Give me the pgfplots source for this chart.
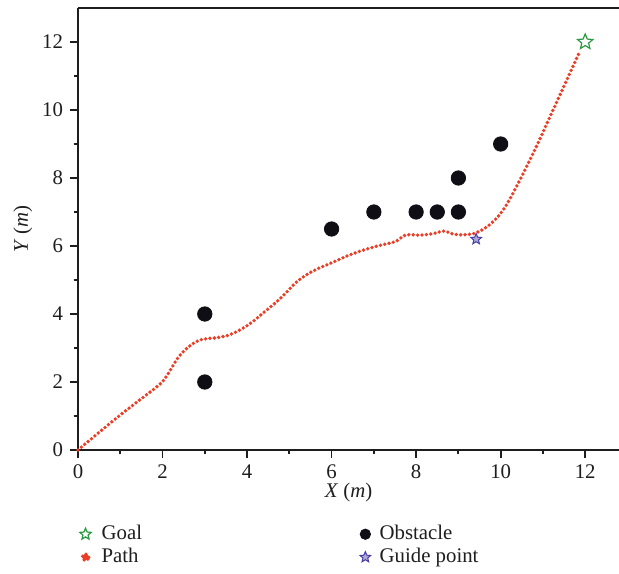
\documentclass[border=0pt]{standalone}
\usepackage{fontspec}
\setmainfont{Liberation Serif}
\usepackage{pgfplots}
\pgfplotsset{compat=1.18}
\definecolor{pathred}{RGB}{232,64,40}
\definecolor{goalgreen}{RGB}{40,155,65}
\definecolor{guideblue}{RGB}{70,60,165}
\definecolor{obsblack}{RGB}{14,14,20}
\definecolor{axisgray}{RGB}{30,30,30}
\pgfdeclareplotmark{fivestar}{%
  \pgfpathmoveto{\pgfpointpolar{90}{\pgfplotmarksize}}%
  \pgfpathlineto{\pgfpointpolar{126}{0.45\pgfplotmarksize}}%
  \pgfpathlineto{\pgfpointpolar{162}{\pgfplotmarksize}}%
  \pgfpathlineto{\pgfpointpolar{198}{0.45\pgfplotmarksize}}%
  \pgfpathlineto{\pgfpointpolar{234}{\pgfplotmarksize}}%
  \pgfpathlineto{\pgfpointpolar{270}{0.45\pgfplotmarksize}}%
  \pgfpathlineto{\pgfpointpolar{306}{\pgfplotmarksize}}%
  \pgfpathlineto{\pgfpointpolar{342}{0.45\pgfplotmarksize}}%
  \pgfpathlineto{\pgfpointpolar{18}{\pgfplotmarksize}}%
  \pgfpathlineto{\pgfpointpolar{54}{0.45\pgfplotmarksize}}%
  \pgfpathclose
  \pgfusepathqfillstroke
}
\pgfplotsset{
  goalleg/.style={legend image code/.code={\draw[goalgreen, fill=white, line width=0.6pt] plot[mark=fivestar, mark size=3pt] coordinates {(0pt,0pt)};}},
  obsleg/.style={legend image code/.code={\draw[obsblack, fill=obsblack] plot[mark=*, mark size=2.6pt] coordinates {(0pt,0pt)};}},
  pathleg/.style={legend image code/.code={\fill[pathred] (0pt,0pt) circle (1.6pt); \path (-2.6pt,0pt) (2.6pt,0pt);}},
  guideleg/.style={legend image code/.code={\draw[guideblue, fill=guideblue, line width=0.5pt] plot[mark=fivestar, mark size=2.8pt] coordinates {(0pt,0pt)};}},
}
\begin{document}
\begin{tikzpicture}
\begin{axis}[
  scale only axis,
  width=270.5pt, height=221pt,
  xmin=0, xmax=12.8, ymin=0, ymax=13,
  axis x line*=box, axis y line*=left,
  xtick pos=bottom, ytick pos=left,
  tick align=outside,
  xtick={0,2,...,12}, ytick={0,2,...,12},
  minor xtick={1,3,...,11}, minor ytick={1,3,...,11},
  major tick length=4pt, minor tick length=2pt,
  axis line style={axisgray, line width=0.9pt},
  every tick/.style={axisgray, line width=0.9pt},
  /pgf/number format/assume math mode=true,
  tick label style={font=\fontsize{10.4}{12}\selectfont, text=axisgray},
  xlabel={\textit{X} (\textit{m})},
  ylabel={\textit{Y} (\textit{m})},
  label style={font=\fontsize{10.4}{12}\selectfont, text=axisgray},
  xlabel style={yshift=5pt},
  ylabel style={yshift=-2pt},
  clip=false,
  legend columns=2,
  legend style={draw=none, fill=none, inner sep=0pt,
    at={(axis description cs:0,-0.167)}, anchor=north west,
    font=\fontsize{10.4}{12}\selectfont, text=axisgray,
    nodes={inner xsep=1pt, inner ysep=0pt, text height=7.5pt, text depth=2.5pt, anchor=west},
    /tikz/column 2/.style={column sep=108pt},
    /tikz/column 1/.style={column sep=3.5pt},
    /tikz/column 3/.style={column sep=3.5pt},
    row sep=1.5pt},
  legend cell align=left,
]
\addplot[only marks, mark=fivestar, mark size=4pt,
  mark options={draw=goalgreen, fill=white, line width=0.6pt}, goalleg]
  coordinates {(12,12)};
\addlegendentry{Goal}
\addplot[only marks, mark=*, mark size=3.6pt,
  mark options={draw=obsblack, fill=obsblack}, obsleg]
  coordinates {(3,2) (3,4) (6,6.5) (7,7) (8,7) (8.5,7) (9,7) (9,8) (10,9)};
\addlegendentry{Obstacle}
\addplot[pathred, line width=1.9pt, line cap=round, dash pattern=on 0pt off 2.2pt,
  smooth, tension=0.6, pathleg]
  coordinates {
  (0,0) (0.5,0.52) (1.0,1.03) (1.5,1.51) (1.95,1.95) (2.13,2.24) (2.33,2.65)
  (2.53,2.94) (2.76,3.16) (2.96,3.26) (3.32,3.31) (3.63,3.41) (4.03,3.68)
  (4.42,4.07) (4.79,4.46) (5.18,4.95) (5.54,5.25) (5.97,5.49) (6.52,5.78)
  (7.08,6.0) (7.51,6.13) (7.75,6.32) (8.10,6.32) (8.42,6.37) (8.66,6.44)
  (8.82,6.37) (9.05,6.33) (9.37,6.37) (9.68,6.57) (10.0,6.96) (10.29,7.55)
  (10.77,8.73) (11.24,10.0) (11.86,11.69)
  };
\addlegendentry{Path}
\addplot[only marks, mark=fivestar, mark size=2.8pt,
  mark options={draw=guideblue, fill=guideblue!45, line width=0.5pt}, guideleg]
  coordinates {(9.42,6.2)};
\addlegendentry{Guide point}
\coordinate (ll) at (rel axis cs:0,0);
\end{axis}
\pgfresetboundingbox
\path ([shift={(-39pt,-61.5pt)}]ll) rectangle ([shift={(270.5pt,225pt)}]ll);
\end{tikzpicture}
\end{document}
